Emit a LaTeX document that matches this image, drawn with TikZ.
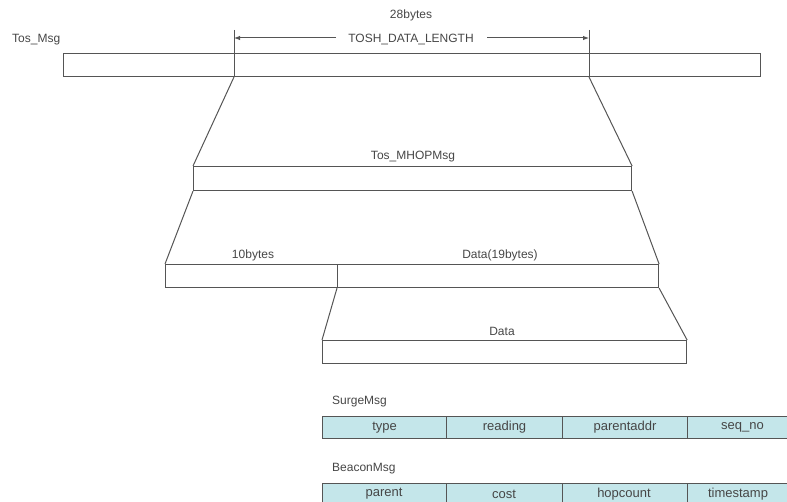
\documentclass[tikz,border=0pt]{standalone}
\usepackage{fontspec}
\setmainfont{Liberation Sans}
\usetikzlibrary{arrows.meta}
\definecolor{ln}{RGB}{85,85,85}
\definecolor{cellfill}{RGB}{196,230,234}
\definecolor{txt}{RGB}{70,70,70}
\tikzset{
  bar/.style={draw=ln, line width=1.1pt, anchor=north west, inner sep=0pt, fill=white},
  lbl/.style={font=\fontsize{12}{14}\selectfont, text=txt, inner sep=1pt},
  cell/.style={draw=ln, line width=1.1pt, fill=cellfill, anchor=north west, inner sep=0pt, font=\fontsize{13}{15}\selectfont, text=txt},
  celltxt/.style={font=\fontsize{13}{15}\selectfont, text=txt, inner sep=1pt},
  conn/.style={draw=ln, line width=1pt},
}
\begin{document}
\begin{tikzpicture}[x=1pt,y=-1pt]
\useasboundingbox (0,0) rectangle (787,502);
% Top bar
\node[bar, minimum width=697pt, minimum height=23pt] (tos) at (63,53) {};
\node[lbl, anchor=west] (toslbl) at (11,40) {Tos\_Msg};
\node[lbl] (bytes28) at (411,15) {28bytes};
\node[lbl] (tdl) at (411,40) {TOSH\_DATA\_LENGTH};
\coordinate (tkLt) at (234,30);
\coordinate (tkLb) at (234,77);
\coordinate (tkRt) at (589,30);
\coordinate (tkRb) at (589,77);
\draw[conn] (tkLt) -- (tkLb);
\draw[conn] (tkRt) -- (tkRb);
\coordinate (arL) at (234,38);
\coordinate (arR) at (589,38);
\coordinate (arLs) at (336,38);
\coordinate (arRs) at (487,38);
\draw[conn, -{Latex[length=6pt,width=4.5pt]}] (arLs) -- (arL);
\draw[conn, -{Latex[length=6pt,width=4.5pt]}] (arRs) -- (arR);
% MHOP bar
\node[bar, minimum width=438pt, minimum height=24pt] (mhop) at (193,166) {};
\node[lbl] (mhoplbl) at (413,157) {Tos\_MHOPMsg};
\draw[conn] (tkLb) -- (mhop.north west);
\draw[conn] (tkRb) -- (mhop.north east);
% header/data bar
\node[bar, minimum width=172pt, minimum height=23pt] (hdr) at (165,264) {};
\node[bar, minimum width=321pt, minimum height=23pt] (dat19) at (337,264) {};
\node[lbl] (b10) at (253,255) {10bytes};
\node[lbl] (d19lbl) at (500,255) {Data(19bytes)};
\draw[conn] (mhop.south west) -- (hdr.north west);
\draw[conn] (mhop.south east) -- (dat19.north east);
% Data bar
\node[bar, minimum width=364pt, minimum height=23pt] (data) at (322,340) {};
\node[lbl] (datalbl) at (502,331) {Data};
\draw[conn] (dat19.south west) -- (data.north west);
\draw[conn] (dat19.south east) -- (data.north east);
% SurgeMsg
\node[lbl, anchor=west] (surge) at (331,402) {SurgeMsg};
\node[cell, minimum width=124pt, minimum height=22pt] (s1) at (322,416) {type};
\node[cell, minimum width=116pt, minimum height=22pt] (s2) at (446,416) {reading};
\node[cell, minimum width=125pt, minimum height=22pt] (s3) at (562,416) {parentaddr};
\node[cell, minimum width=110pt, minimum height=22pt] (s4) at (687,416) {seq\_no};
% BeaconMsg
\node[lbl, anchor=west] (beacon) at (331,469) {BeaconMsg};
\node[cell, minimum width=124pt, minimum height=28pt] (b1) at (322,483) {};
\node[cell, minimum width=116pt, minimum height=28pt] (b2) at (446,483) {};
\node[cell, minimum width=125pt, minimum height=28pt] (b3) at (562,483) {};
\node[cell, minimum width=110pt, minimum height=28pt] (b4) at (687,483) {};
\node[celltxt] (b1t) at (384,494) {parent};
\node[celltxt] (b2t) at (504,494) {cost};
\node[celltxt] (b3t) at (624,494) {hopcount};
\node[celltxt] (b4t) at (738,494) {timestamp};
\end{tikzpicture}
\end{document}
